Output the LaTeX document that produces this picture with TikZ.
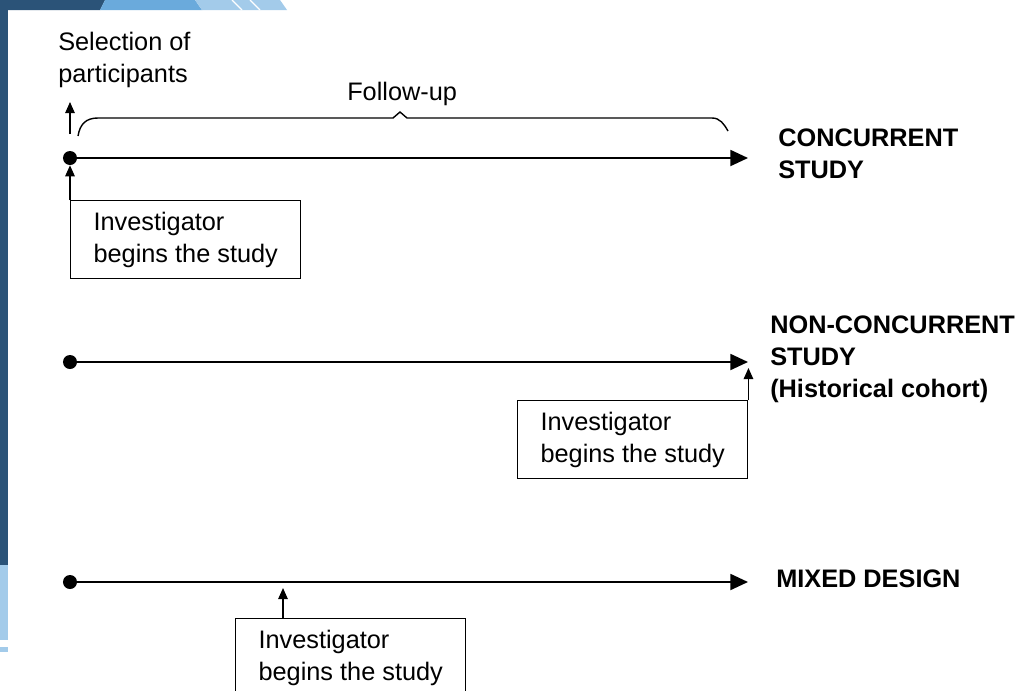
\documentclass[tikz,border=0pt]{standalone}
\usepackage{fontspec}
\setmainfont{Liberation Sans}
\usetikzlibrary{arrows.meta}
\definecolor{slidenavy}{HTML}{2B5378}
\definecolor{slideblue}{HTML}{6AAADC}
\definecolor{slidelight}{HTML}{A3CBEA}
\begin{document}
\begin{tikzpicture}[x=0.025cm, y=-0.025cm,
                every node/.style={font=\fontsize{18}{22.7}\selectfont, inner sep=0pt},
                plaintext/.style={anchor=base west, align=left},
                studylabel/.style={anchor=base west, align=left, font=\fontsize{18}{22.7}\selectfont\bfseries},
                studybox/.style={draw, line width=1pt, anchor=north west, align=left,
                                 inner xsep=0.55cm, minimum width=5.75cm, minimum height=1.95cm},
                dot/.style={circle, fill=black, minimum size=0.35cm},
                timeline/.style={line width=1.3pt, -{Triangle[length=0.44cm, width=0.4cm]}},
                pointer/.style={line width=1pt, -{Triangle[length=0.28cm, width=0.24cm]}}]

                \clip (0,0) rectangle (1028,691);
                % slide background
                \fill[white] (0,0) rectangle (1028,691);
                \fill[slidenavy] (0,0) rectangle (8,565);
                \fill[slidelight] (0,565) rectangle (8,640);
                \fill[slidelight] (0,647) rectangle (8,652);
                \fill[slidenavy] (0,0) -- (105,0) -- (100,10) -- (0,10) -- cycle;
                \fill[slideblue] (105,0) -- (195,0) -- (202,10) -- (100,10) -- cycle;
                \fill[slidelight] (195,0) -- (280,0) -- (287,10) -- (202,10) -- cycle;
                \draw[white, line width=1pt] (232,0) -- (242,10) (250,0) -- (260,10);

                % Define nodes (multi-line labels sit on their last baseline)
                \node[plaintext] (select) at (58,82) {Selection of\\participants};
                \node[plaintext] (follow) at (347,100) {Follow-up};

                \node[dot] (d1) at (70,158) {}; % concurrent
                \node[dot] (d2) at (70,362) {}; % non-concurrent
                \node[dot] (d3) at (70,582) {}; % mixed
                \coordinate (e1) at (748,158);
                \coordinate (e2) at (748,362);
                \coordinate (e3) at (748,582);

                \node[studylabel] (concurrent) at (778,178) {CONCURRENT\\STUDY};
                \node[studylabel] (nonconcurrent) at (770,397) {NON-CONCURRENT\\STUDY\\(Historical cohort)};
                \node[studylabel] (mixed) at (776,587) {MIXED DESIGN};

                \node[studybox] (box1) at (70,200) {Investigator\\begins the study};
                \node[studybox] (box2) at (517,400) {Investigator\\begins the study};
                \node[studybox] (box3) at (235,618) {Investigator\\begins the study};

                \coordinate (s0) at (70,134);
                \coordinate (s1) at (70,102);
                \coordinate (m3) at (283,618);
                \coordinate (t3) at (283,588);
                \coordinate (t2) at (box2.north east |- 0,368);

                % Define edges
                \draw[timeline] (d1) -- (e1);
                \draw[timeline] (d2) -- (e2);
                \draw[timeline] (d3) -- (e3);
                \draw[pointer] (s0) -- (s1);
                \draw[pointer] (box1.north west) -- (d1.south);
                \draw[pointer] (box2.north east) -- (t2);
                \draw[pointer] (m3) -- (t3);

                % follow-up brace
                \draw[line width=1pt] (78,136) .. controls (80,124) and (86,118) .. (98,118)
                                     -- (393,118) -- (400,112) -- (407,118) -- (712,118)
                                     .. controls (720,118) and (724,124) .. (728,131);
\end{tikzpicture}
\end{document}
